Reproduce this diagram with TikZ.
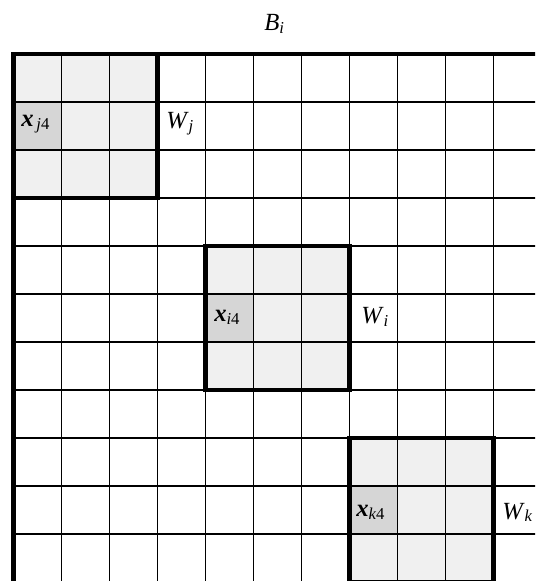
\documentclass[tikz,border=0pt]{standalone}
\usepackage{fontspec}
\setmainfont{Liberation Serif}
\newcommand{\mysub}[1]{\raisebox{-2pt}{\fontsize{12.5pt}{14pt}\selectfont #1}}
\begin{document}
\begin{tikzpicture}[x=0.75pt,y=-0.75pt,
  gridline/.style={line width=1.4pt,black},
  border/.style={line width=3.4pt,black},
  winfill/.style={fill=black!6},
  xfill/.style={fill=black!16},
  lbl/.style={inner sep=0pt,font=\fontsize{18.5pt}{21pt}\selectfont,anchor=base west}]
\useasboundingbox (0,0) rectangle (535,581);
\clip (0,0) rectangle (535,581);
% window fills
\fill[winfill] (13.5,54) rectangle (157.5,198);
\fill[winfill] (205.5,246) rectangle (349.5,390);
\fill[winfill] (349.5,438) rectangle (493.5,582);
\fill[xfill] (13.5,102) rectangle (61.5,150);
\fill[xfill] (205.5,294) rectangle (253.5,342);
\fill[xfill] (349.5,486) rectangle (397.5,534);
% grid
\foreach \k in {1,...,11} {
  \draw[gridline] (13.5+48*\k,54) -- (13.5+48*\k,590);
  \draw[gridline] (13.5,54+48*\k) -- (545,54+48*\k);
}
% borders
\draw[border] (13.5,54) -- (545,54);
\draw[border] (13.5,52.3) -- (13.5,590);
\draw[border] (13.5,54) rectangle (157.5,198);
\draw[border] (205.5,246) rectangle (349.5,390);
\draw[border] (349.5,438) rectangle (493.5,582);
% labels
\node[lbl] (Bi) at (264,31) {\textit{B}\mysub{\textit{i}}};
\node[lbl] (xj) at (21,127) {\textbf{\textit{x}}\mysub{\,\textit{j}4}};
\node[lbl] (lWj) at (166,129) {\textit{W}\mysub{\textit{j}}};
\node[lbl] (xi) at (214,321.5) {\textbf{\textit{x}}\mysub{\textit{i}4}};
\node[lbl] (lWi) at (361,323.5) {\textit{W}\mysub{\textit{i}}};
\node[lbl] (xk) at (356,516.5) {\textbf{\textit{x}}\mysub{\textit{k}4}};
\node[lbl] (lWk) at (502,519) {\textit{W}\mysub{\textit{k}}};
\end{tikzpicture}
\end{document}
